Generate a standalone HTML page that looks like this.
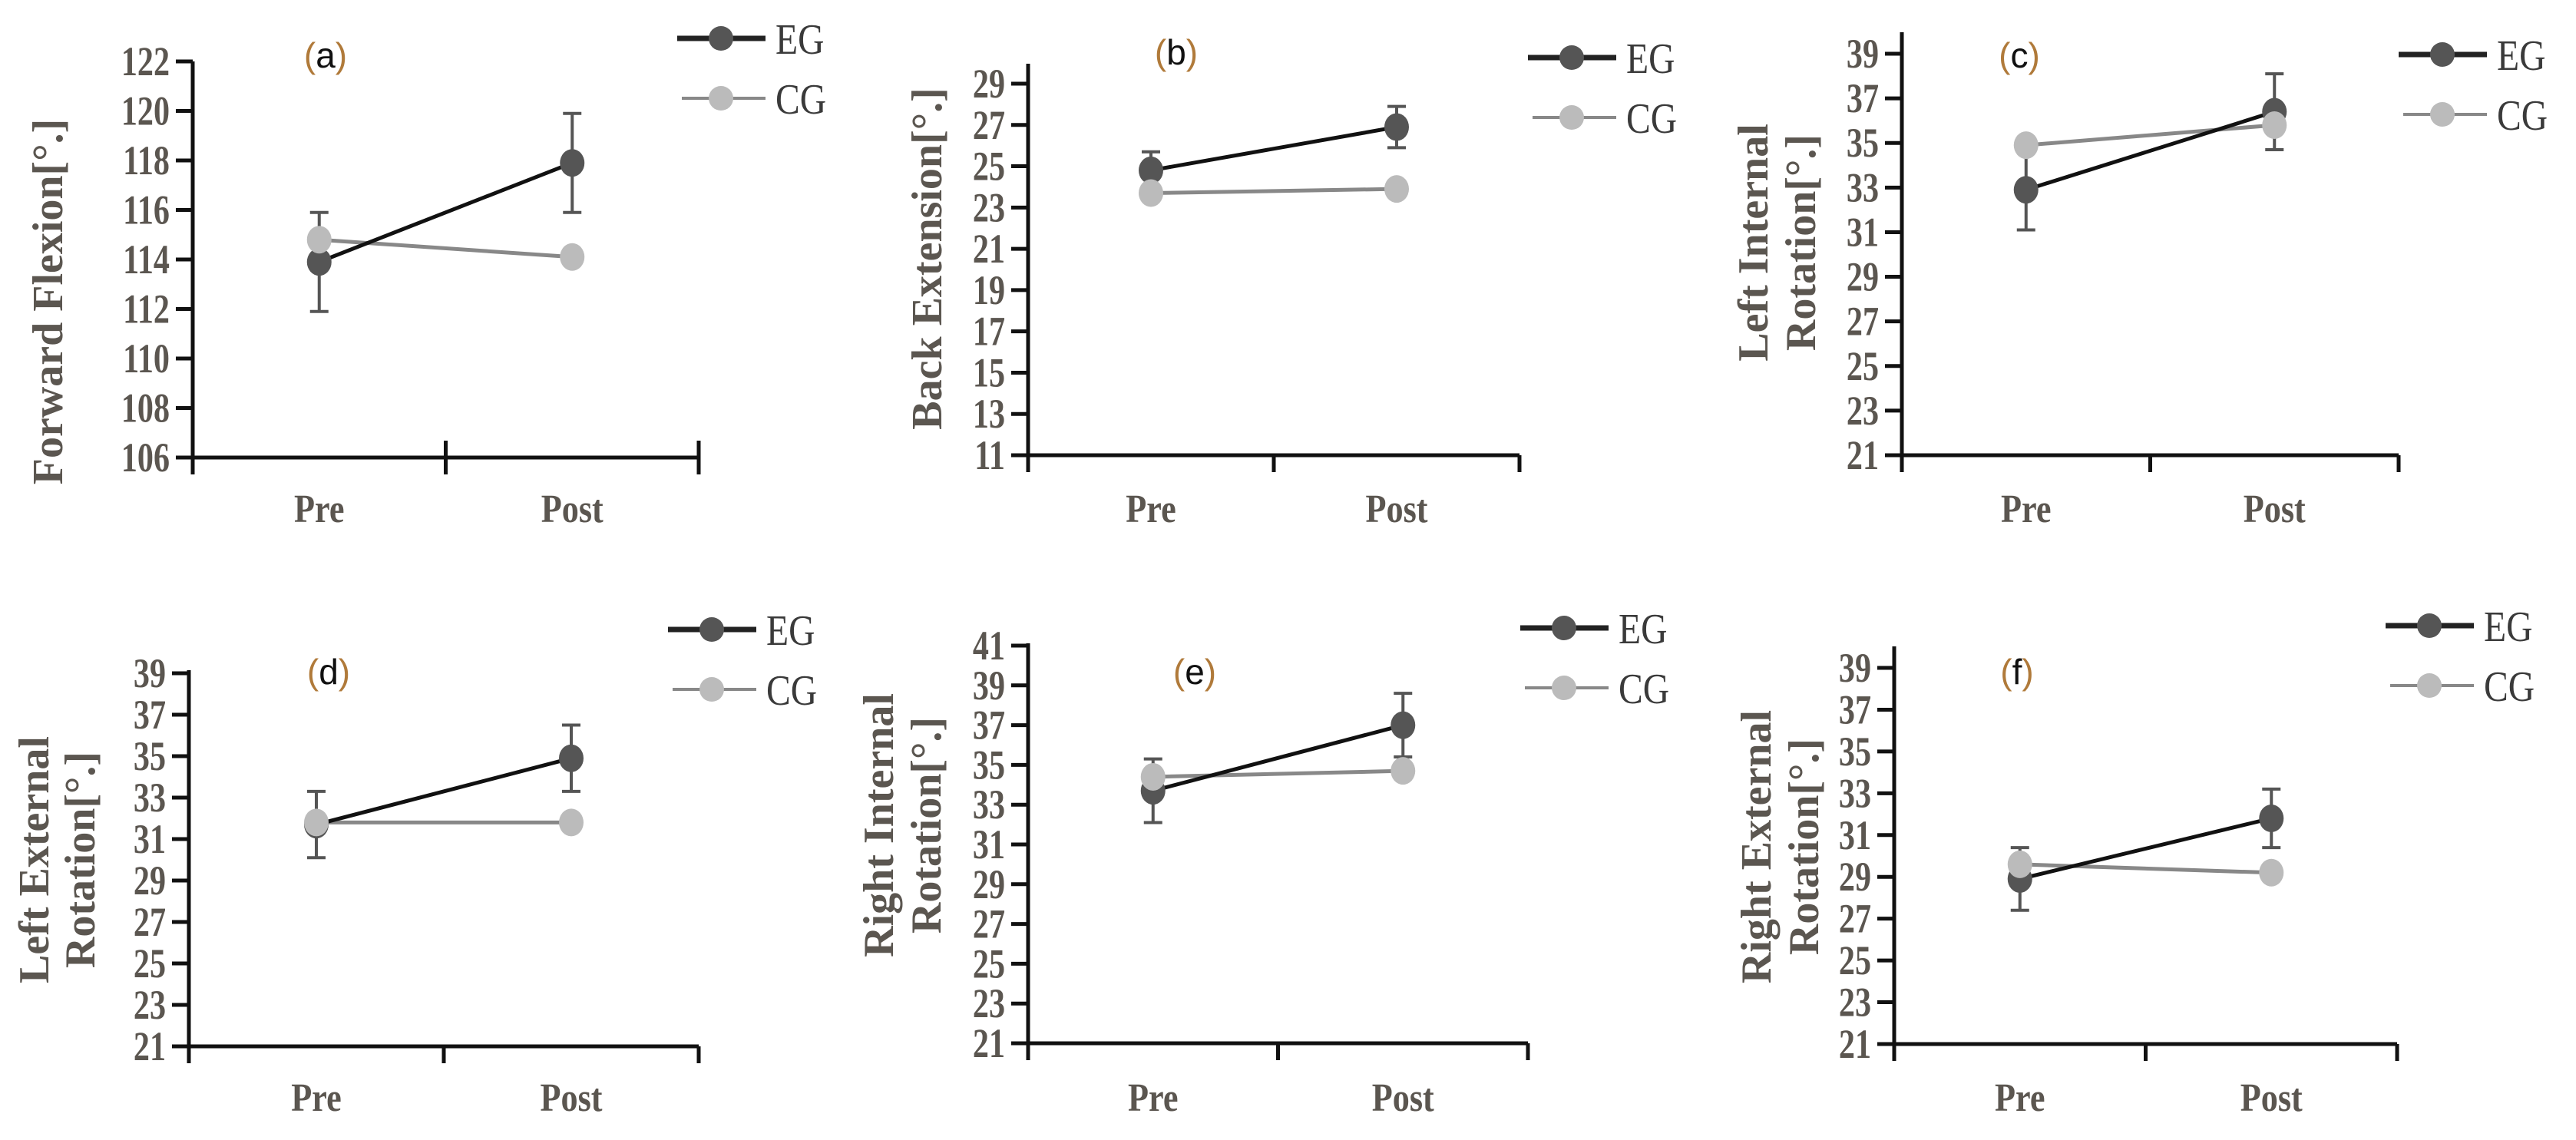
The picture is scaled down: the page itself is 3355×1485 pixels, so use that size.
<!DOCTYPE html>
<html><head><meta charset="utf-8"><title>Range of motion: EG vs CG</title>
<style>
html,body{margin:0;padding:0;background:#fff;}
svg{display:block;}
.tick{font-family:"Liberation Serif",serif;font-weight:bold;font-size:54px;fill:#5b5650;}
.cat{font-family:"Liberation Serif",serif;font-weight:bold;font-size:52px;fill:#5b5650;}
.ytitle{font-family:"Liberation Serif",serif;font-weight:bold;font-size:56px;fill:#5b5650;}
.leg{font-family:"Liberation Serif",serif;font-size:56px;fill:#3a3a3a;}
.ptitle{font-family:"Liberation Sans",sans-serif;font-size:46px;fill:#111;}
</style></head>
<body>
<svg id="fig" xmlns="http://www.w3.org/2000/svg" width="3355" height="1485" viewBox="0 0 3355 1485"></svg>
<script>
// ---- data ----
const categories = ["Pre","Post"];
const panelLetters = ["a","b","c","d","e","f"];
const yTitles = [["Forward Flexion[°.]"],["Back Extension[°.]"],["Left Internal","Rotation[°.]"],["Left External","Rotation[°.]"],["Right Internal","Rotation[°.]"],["Right External","Rotation[°.]"]];
const yMins = [106,11,21,21,21,21];
const yMaxs = [122,29,39,39,41,39];
const yStep = [2,2,2,2,2,2];
const egMeans = [[113.9,117.9],[24.8,26.9],[32.9,36.4],[31.7,34.9],[33.7,37.0],[28.9,31.8]];
const egErr   = [[2.0,2.0],[0.9,1.0],[1.8,1.7],[1.6,1.6],[1.6,1.6],[1.5,1.4]];
const cgMeans = [[114.8,114.1],[23.7,23.9],[34.9,35.8],[31.8,31.8],[34.4,34.7],[29.6,29.2]];

// ---- layout (pixels) ----
const layout = [
 {ax:251, right:910, yTop:80,  yBot:596, axTop:80,  tx:424, ty:72,  legX:882, legY:50,  titleX:[62], titleY:393, catY:680},
 {ax:1339,right:1979,yTop:109, yBot:593, axTop:83,  tx:1532,ty:68,  legX:1990,legY:75, titleX:[1207], titleY:337, catY:680},
 {ax:2477,right:3124,yTop:70,  yBot:593, axTop:42,  tx:2630,ty:72,  legX:3124,legY:71, titleX:[2283,2345], titleY:316, catY:680},
 {ax:246, right:910, yTop:877, yBot:1363,axTop:873, tx:428, ty:875, legX:870, legY:820, titleX:[44,104], titleY:1120, catY:1447},
 {ax:1339,right:1990,yTop:841, yBot:1359,axTop:838, tx:1556,ty:875, legX:1980,legY:818, titleX:[1144,1206], titleY:1075, catY:1447},
 {ax:2467,right:3122,yTop:870, yBot:1360,axTop:842, tx:2627,ty:875, legX:3107,legY:815, titleX:[2287,2349], titleY:1103, catY:1447}
];
const NS="http://www.w3.org/2000/svg";
const svg=document.getElementById('fig');
function mk(tag,attrs,parent){const e=document.createElementNS(NS,tag);for(const k in attrs)e.setAttribute(k,attrs[k]);(parent||svg).appendChild(e);return e;}

for(let p=0;p<6;p++){
  const L=layout[p];
  const g=mk('g',{});
  
  
  const yS=v=>L.yBot-(v-yMins[p])/(yMaxs[p]-yMins[p])*(L.yBot-L.yTop);
  const w=L.right-L.ax;
  const xS=i=>L.ax+w*(0.25+0.5*i);
  const ya=mk('line',{x1:L.ax,y1:L.axTop,x2:L.ax,y2:L.yBot+22,stroke:'#111','stroke-width':5},g);
  
  
  const xa=mk('line',{x1:L.ax-22,y1:L.yBot,x2:L.right,y2:L.yBot,stroke:'#111','stroke-width':5},g);
  
  
  [L.ax+w/2,L.right].forEach(x=>{mk('line',{x1:x,y1:p===0?L.yBot-22:L.yBot,x2:x,y2:L.yBot+22,stroke:'#111','stroke-width':5},g);});
  for(let v=yMins[p];v<=yMaxs[p]+1e-9;v+=yStep[p]){
    const y=yS(v);
    mk('line',{x1:L.ax-22,y1:y,x2:L.ax,y2:y,stroke:'#111','stroke-width':5},g);
    const t=mk('text',{x:0,y:0,'text-anchor':'end',class:'tick',transform:`translate(${L.ax-30},${y+18}) scale(0.78,1)`},g);
    t.textContent=v;
    
    
  }
  categories.forEach((c,i)=>{
    const t=mk('text',{x:0,y:0,'text-anchor':'middle',class:'cat',transform:`translate(${xS(i)},${L.catY}) scale(0.85,1)`},g);
    t.textContent=c;
    
    
  });
  const lines=yTitles[p];
  lines.forEach((s,k)=>{
    const x=L.titleX[k];
    const t=mk('text',{x:0,y:0,'text-anchor':'middle',class:'ytitle',transform:`translate(${x+19},${L.titleY}) rotate(-90)`},g);
    t.textContent=s;
    
    
  });
  const pt=mk('text',{x:L.tx,y:L.ty+16,'text-anchor':'middle',class:'ptitle'},g);
  pt.innerHTML='<tspan fill="#b07a3a">(</tspan>'+panelLetters[p]+'<tspan fill="#b07a3a">)</tspan>';
  
  
  const cgl=mk('line',{x1:xS(0),y1:yS(cgMeans[p][0]),x2:xS(1),y2:yS(cgMeans[p][1]),stroke:'#888','stroke-width':5},g);
  
  
  const egl=mk('line',{x1:xS(0),y1:yS(egMeans[p][0]),x2:xS(1),y2:yS(egMeans[p][1]),stroke:'#111','stroke-width':5},g);
  
  
  for(let i=0;i<2;i++){
    const x=xS(i),hi=yS(egMeans[p][i]+egErr[p][i]),lo=yS(egMeans[p][i]-egErr[p][i]);
    const eb=mk('path',{d:`M${x},${hi}V${lo}M${x-12},${hi}H${x+12}M${x-12},${lo}H${x+12}`,stroke:'#555','stroke-width':4,fill:'none'},g);
    
    
  }
  for(let i=0;i<2;i++){
    const m=mk('ellipse',{cx:xS(i),cy:yS(egMeans[p][i]),rx:16,ry:18,fill:'#555'},g);
    
    
  }
  for(let i=0;i<2;i++){
    const m=mk('ellipse',{cx:xS(i),cy:yS(cgMeans[p][i]),rx:16,ry:18,fill:'#bbb'},g);
    
    
  }
  const lg=mk('g',{},g);
  
  
  const e1=mk('g',{},lg);
  
  
  mk('line',{x1:L.legX,y1:L.legY,x2:L.legX+115,y2:L.legY,stroke:'#222','stroke-width':7},e1);
  mk('circle',{cx:L.legX+57,cy:L.legY,r:16,fill:'#555'},e1);
  const t1=mk('text',{x:0,y:0,class:'leg',transform:`translate(${L.legX+128},${L.legY+20}) scale(0.85,1)`},e1);t1.textContent='EG';
  const cy=L.legY+78;
  const e2=mk('g',{},lg);
  
  
  mk('line',{x1:L.legX+6,y1:cy,x2:L.legX+115,y2:cy,stroke:'#888','stroke-width':4},e2);
  mk('circle',{cx:L.legX+57,cy:cy,r:16,fill:'#bbb'},e2);
  const t2=mk('text',{x:0,y:0,class:'leg',transform:`translate(${L.legX+128},${cy+20}) scale(0.85,1)`},e2);t2.textContent='CG';
}
</script>
</body></html>
